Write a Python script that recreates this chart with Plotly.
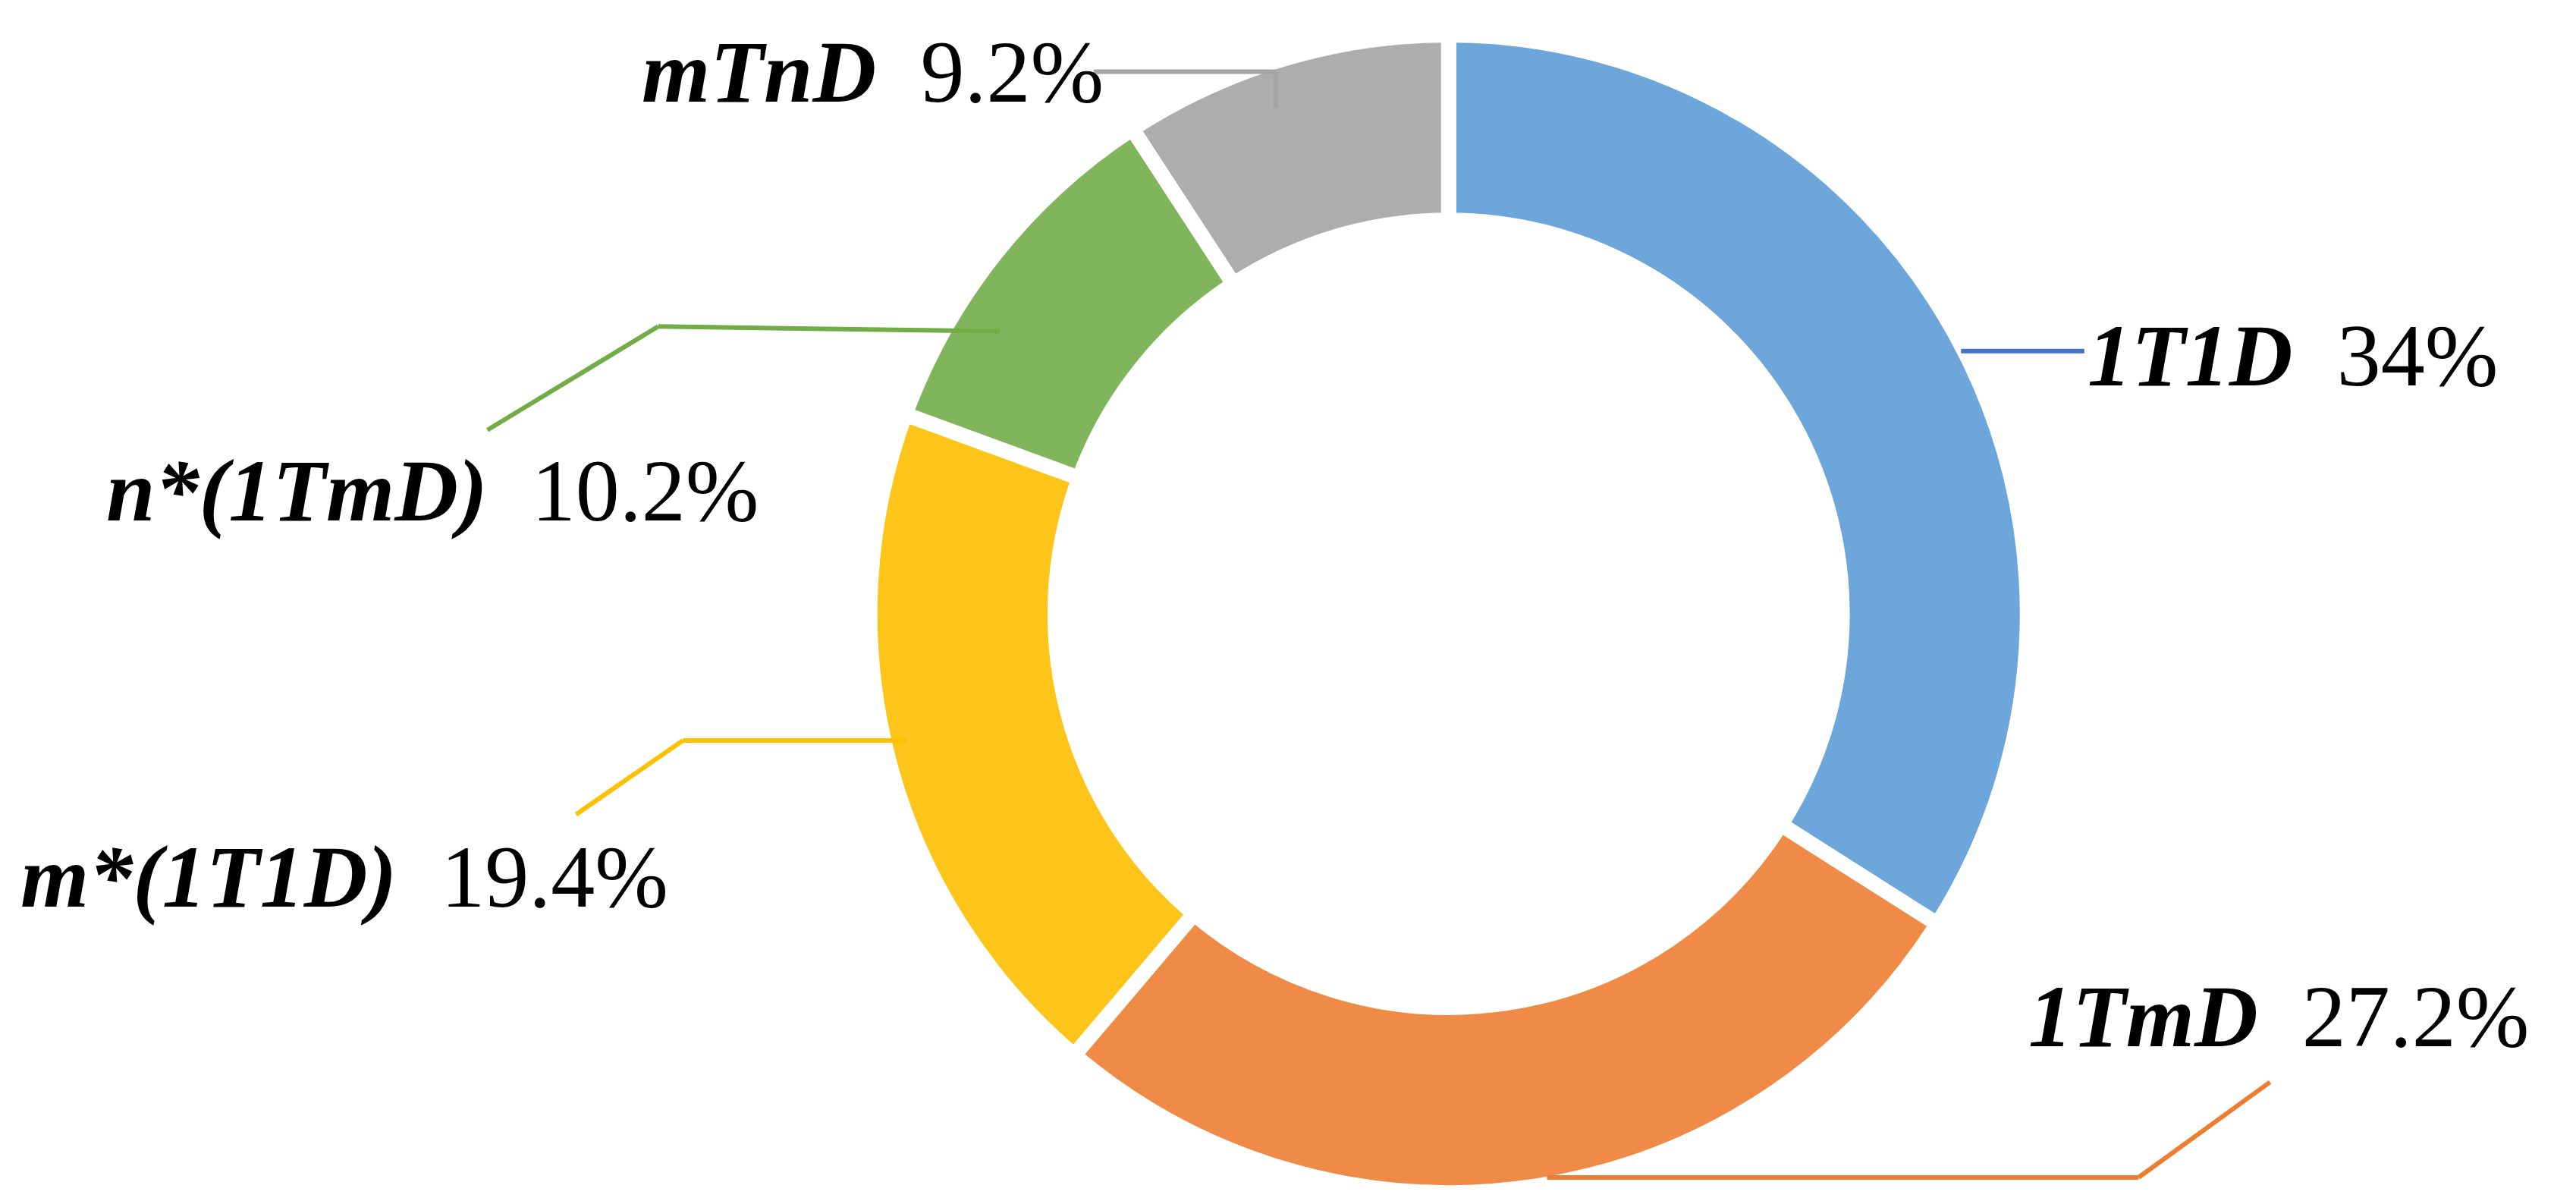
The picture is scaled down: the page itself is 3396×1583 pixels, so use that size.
import plotly.graph_objects as go

labels = ["1T1D", "1TmD", "m*(1T1D)", "n*(1TmD)", "mTnD"]
values = [34.0, 27.2, 19.4, 10.2, 9.2]
pct_text = ["34%", "27.2%", "19.4%", "10.2%", "9.2%"]
colors = ["#6CA6DA", "#EF8B46", "#FDC519", "#80B55B", "#ADADAD"]
line_colors = ["#4472C4", "#ED7D31", "#FFC000", "#70AD47", "#A5A5A5"]

W, H = 1568.0, 731.0
def P(x, y):
    return x / W, 1 - y / H

label_pos = [(1266, 213), (1230, 615), (8, 530), (60, 295), (386, 40)]
leaders = [
    [(1190, 210), (1265, 210)],
    [(938, 713), (1298, 713), (1378, 655)],
    [(548, 447), (412, 447), (347, 492)],
    [(605, 198), (397, 195), (293, 258)],
    [(662, 40), (773, 40), (773, 62)],
]

fig = go.Figure(go.Pie(
    labels=labels, values=values, hole=0.68, sort=False, direction="clockwise",
    rotation=0, marker=dict(colors=colors, line=dict(color="white", width=20)),
    textinfo="none", hoverinfo="label+percent",
    domain=dict(x=[0.335, 0.785], y=[0.012, 0.976]),
))

for lab, pt, (x, y) in zip(labels, pct_text, label_pos):
    px, py = P(x, y)
    fig.add_annotation(x=px, y=py, xref="paper", yref="paper", xanchor="left", yanchor="middle",
                       showarrow=False, text=f"<b><i>{lab}</i></b>  {pt}",
                       font=dict(family="Liberation Serif", size=116, color="black"))

for pts, c in zip(leaders, line_colors):
    for (x0, y0), (x1, y1) in zip(pts[:-1], pts[1:]):
        a, b = P(x0, y0); cc, d = P(x1, y1)
        fig.add_shape(type="line", xref="paper", yref="paper", x0=a, y0=b, x1=cc, y1=d,
                      line=dict(color=c, width=6))

fig.update_layout(width=3396, height=1583, margin=dict(l=0, r=0, t=0, b=0),
                  showlegend=False, paper_bgcolor="white", plot_bgcolor="white")
fig.write_html("out.html")
